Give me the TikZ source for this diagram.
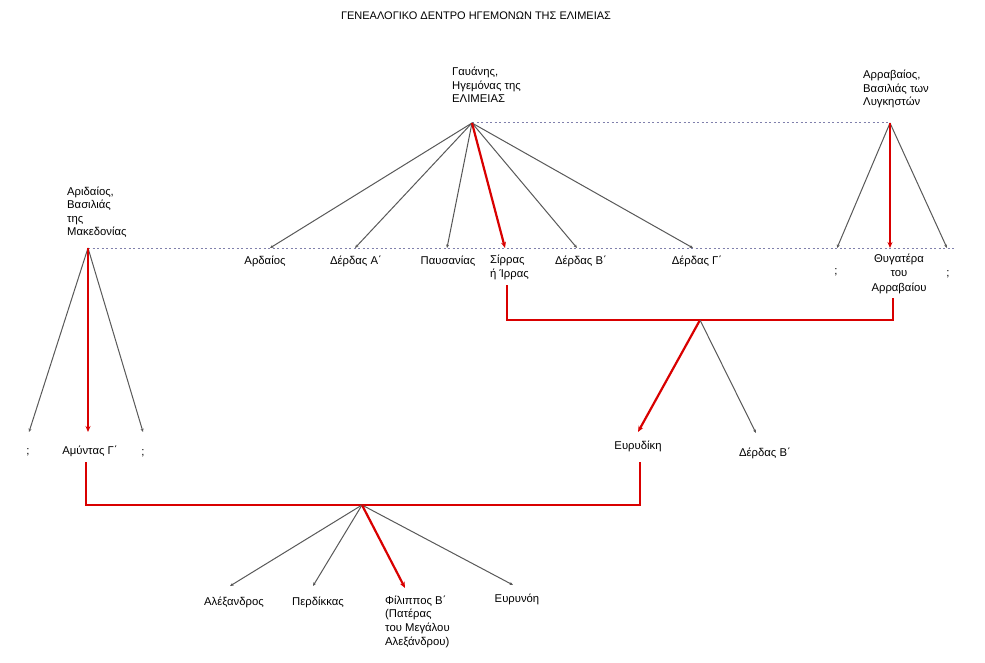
\documentclass[tikz,border=0pt]{standalone}
\usepackage{fontspec}
\setmainfont{Liberation Sans}
\usetikzlibrary{arrows.meta}
\begin{document}
\begin{tikzpicture}[x=1pt,y=-1pt,
  lbl/.style={font=\fontsize{11.3}{13.6}\selectfont, inner sep=0pt, text=black},
  lblc/.style={lbl, anchor=base, align=center},
  lbll/.style={lbl, anchor=base west, align=left},
  greyline/.style={draw=black!65, line width=1pt, -{Stealth[length=3.5pt,width=3pt]}},
  redline/.style={draw=red!85!black, line width=2.2pt},
  redarrow/.style={redline, -{Stealth[length=6pt,width=5pt]}},
  dotline/.style={draw=blue!35!black!50, line width=1pt, dash pattern=on 2pt off 2.5pt}]
\useasboundingbox (0,0) rectangle (985,663);
\fill[white] (0,0) rectangle (985,663);

% title
\node[lbl, anchor=base, font=\fontsize{11}{13}\selectfont] (title) at (476,20) {ΓΕΝΕΑΛΟΓΙΚΟ ΔΕΝΤΡΟ ΗΓΕΜΟΝΩΝ ΤΗΣ ΕΛΙΜΕΙΑΣ};

% parents (base = last line)
\node[lbll] (gau) at (452,103) {Γαυάνης,\\Ηγεμόνας της\\ΕΛΙΜΕΙΑΣ};
\node[lbll] (arr) at (863,106) {Αρραβαίος,\\Βασιλιάς των\\Λυγκηστών};
\node[lbll] (ari) at (67,236) {Αριδαίος,\\Βασιλιάς\\της\\Μακεδονίας};

\coordinate (gp) at (472,123);
\coordinate (ap) at (890,123);
\coordinate (mp) at (88,248);
\coordinate (dend) at (955,248);

\draw[dotline] (gp) -- (ap);
\draw[dotline] (mp) -- (dend);

% children of Gauanes
\coordinate (c1) at (270,248);
\coordinate (c2) at (355,248);
\coordinate (c3) at (447,248);
\coordinate (c4) at (505,248);
\coordinate (c5) at (577,248);
\coordinate (c6) at (693,248);
\draw[greyline] (gp) -- (c1);
\draw[greyline] (gp) -- (c2);
\draw[greyline] (gp) -- (c3);
\draw[greyline] (gp) -- (c5);
\draw[greyline] (gp) -- (c6);
\draw[redarrow] (gp) -- (c4);

\node[lblc] (ard) at (265,264) {Αρδαίος};
\node[lblc] (derA) at (356,264) {Δέρδας Α΄};
\node[lblc] (pau) at (448,264) {Παυσανίας};
\node[lbll] (sir) at (490,277) {Σίρρας\\ή Ίρρας};
\node[lblc] (derB) at (581,264) {Δέρδας Β΄};
\node[lblc] (derG) at (697,264) {Δέρδας Γ΄};

% children of Arrabaios
\coordinate (a1) at (837,248);
\coordinate (a2) at (890,248);
\coordinate (a3) at (947,248);
\draw[greyline] (ap) -- (a1);
\draw[greyline] (ap) -- (a3);
\draw[redarrow] (ap) -- (a2);
\node[lblc] (q1) at (836,274) {;};
\node[lblc, font=\fontsize{11.3}{14.5}\selectfont] (thy) at (899,291) {Θυγατέρα\\του\\Αρραβαίου};
\node[lblc] (q2) at (948,276) {;};

% marriage Sirras - daughter
\coordinate (j1) at (700,320);
\coordinate (sb) at (507,285);
\coordinate (tb) at (893,298);
\draw[redline] (sb) -- (sb |- j1) -- (tb |- j1) -- (tb);

\coordinate (e1) at (638,432);
\coordinate (e2) at (756,433);
\draw[redarrow] (j1) -- (e1);
\draw[greyline] (j1) -- (e2);
\node[lblc] (eur) at (638,449) {Ευρυδίκη};
\node[lblc] (derB2) at (765,456) {Δέρδας Β΄};

% children of Aridaios
\coordinate (l1) at (29,432);
\coordinate (l2) at (88,432);
\coordinate (l3) at (143,432);
\draw[greyline] (mp) -- (l1);
\draw[greyline] (mp) -- (l3);
\draw[redarrow] (mp) -- (l2);
\node[lblc] (q3) at (28,454) {;};
\node[lblc] (amy) at (90,454) {Αμύντας Γ΄};
\node[lblc] (q4) at (143,455) {;};

% marriage Amyntas - Eurydike
\coordinate (j2) at (362,505);
\coordinate (mb) at (86,462);
\coordinate (eb) at (640,462);
\draw[redline] (mb) -- (mb |- j2) -- (eb |- j2) -- (eb);

\coordinate (k1) at (230,586);
\coordinate (k2) at (313,586);
\coordinate (k3) at (405,588);
\coordinate (k4) at (513,585);
\draw[greyline] (j2) -- (k1);
\draw[greyline] (j2) -- (k2);
\draw[greyline] (j2) -- (k4);
\draw[redarrow] (j2) -- (k3);
\node[lblc] (ale) at (234,605) {Αλέξανδρος};
\node[lblc] (per) at (318,605) {Περδίκκας};
\node[lbll] (fil) at (385,645) {Φίλιππος Β΄\\(Πατέρας\\του Μεγάλου\\Αλεξάνδρου)};
\node[lblc] (evn) at (517,602) {Ευρυνόη};
\end{tikzpicture}
\end{document}
